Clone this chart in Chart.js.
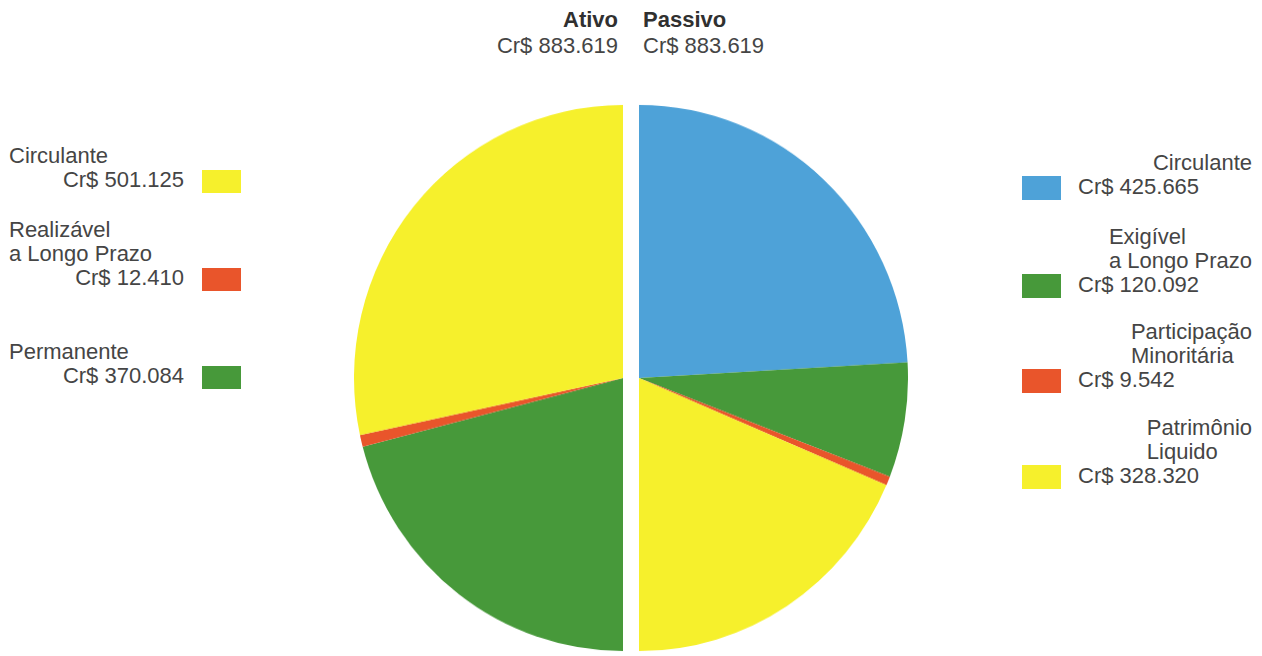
<!DOCTYPE html>
<html lang="pt-BR">
<head>
<meta charset="utf-8">
<title>Ativo e Passivo</title>
<script src="https://cdn.jsdelivr.net/npm/chart.js@4.4.1/dist/chart.umd.min.js"></script>
<style>
  html, body { margin: 0; padding: 0; background: #fff; }
  body {
    width: 1262px; height: 656px; position: relative; overflow: hidden;
    font-family: "Liberation Sans", Arial, Helvetica, sans-serif;
    color: #454545; font-size: 22px; line-height: 24px;
  }
  .txt { position: absolute; white-space: pre; }
  .bold { font-weight: bold; color: #303030; }
  .half {
    position: absolute; top: 109px; width: 269px; height: 538px;
    transform: scaleY(1.015); transform-origin: 50% 50%;
  }
  #ativoBox { left: 354px; }
  #passivoBox { left: 639px; }
  .swatch { position: absolute; width: 39px; height: 24px; }
</style>
</head>
<body>
<div id="ativoBox" class="half"><canvas id="ativoChart"></canvas></div>
<div id="passivoBox" class="half"><canvas id="passivoChart"></canvas></div>
<div id="labels"></div>
<script>
// Balance sheet totals and their components (Cr$)
const groupTitles = ['Ativo', 'Passivo'];
const groupTotals = [883619, 883619];

const ativoCategories = [['Circulante'], ['Realizável', 'a Longo Prazo'], ['Permanente']];
const ativoValues = [501125, 12410, 370084];

const passivoCategories = [['Circulante'], ['Exigível', 'a Longo Prazo'], ['Participação', 'Minoritária'], ['Patrimônio', 'Liquido']];
const passivoValues = [425665, 120092, 9542, 328320];

const ativoColors = ['#f6f02c', '#e9552b', '#47993a'];
const passivoColors = ['#4ea2d8', '#47993a', '#e9552b', '#f6f02c'];

// Vertical position of each legend block (layout only)
const ativoLegendTops = [144, 218, 340];
const passivoLegendTops = [151, 225, 320, 416];

function money(n) {
  return 'Cr$ ' + String(n).replace(/\B(?=(\d{3})+(?!\d))/g, '.');
}

// Each side of the balance is a half pie: Ativo on the left, Passivo on the right
function halfPie(canvasId, labels, values, colors, rotation) {
  return new Chart(document.getElementById(canvasId), {
    type: 'pie',
    data: {
      labels: labels,
      datasets: [{ data: values, backgroundColor: colors, borderWidth: 0, hoverOffset: 0 }]
    },
    options: {
      responsive: true,
      maintainAspectRatio: false,
      animation: false,
      rotation: rotation,
      circumference: 180,
      layout: { padding: 0 },
      events: [],
      plugins: { legend: { display: false }, tooltip: { enabled: false } }
    }
  });
}

// Left half runs clockwise from the bottom: Permanente, Realizável, Circulante
halfPie('ativoChart',
  ativoCategories.map(c => c.join(' ')).slice().reverse(),
  ativoValues.slice().reverse(),
  ativoColors.slice().reverse(),
  180);

// Right half runs clockwise from the top
halfPie('passivoChart',
  passivoCategories.map(c => c.join(' ')),
  passivoValues,
  passivoColors,
  0);

// Text: headings and legends
const root = document.getElementById('labels');
function add(cls, text, style) {
  const d = document.createElement('div');
  d.className = cls;
  d.textContent = text;
  Object.assign(d.style, style);
  root.appendChild(d);
  return d;
}

// Headings over the pie
add('txt bold', groupTitles[0], { left: '0px', width: '618px', textAlign: 'right', top: '8px' });
add('txt bold', groupTitles[1], { left: '643px', top: '8px' });
add('txt', money(groupTotals[0]), { left: '0px', width: '618px', textAlign: 'right', top: '34px' });
add('txt', money(groupTotals[1]), { left: '643px', top: '34px' });

// Ativo legend (left)
ativoCategories.forEach((lines, i) => {
  const top = ativoLegendTops[i];
  add('txt', lines.join('\n'), { left: '9px', top: top + 'px' });
  const vTop = top + lines.length * 24;
  add('txt', money(ativoValues[i]), { left: '0px', width: '184px', textAlign: 'right', top: vTop + 'px' });
  add('swatch', '', { left: '202px', top: (vTop + 2) + 'px', height: '23px', background: ativoColors[i] });
});

// Passivo legend (right)
passivoCategories.forEach((lines, i) => {
  const top = passivoLegendTops[i];
  add('txt', lines.join('\n'), { right: '10px', top: top + 'px', textAlign: 'left' });
  const vTop = top + lines.length * 24;
  add('txt', money(passivoValues[i]), { left: '1078px', top: vTop + 'px' });
  add('swatch', '', { left: '1022px', top: (vTop + 1) + 'px', background: passivoColors[i] });
});
</script>
</body>
</html>
